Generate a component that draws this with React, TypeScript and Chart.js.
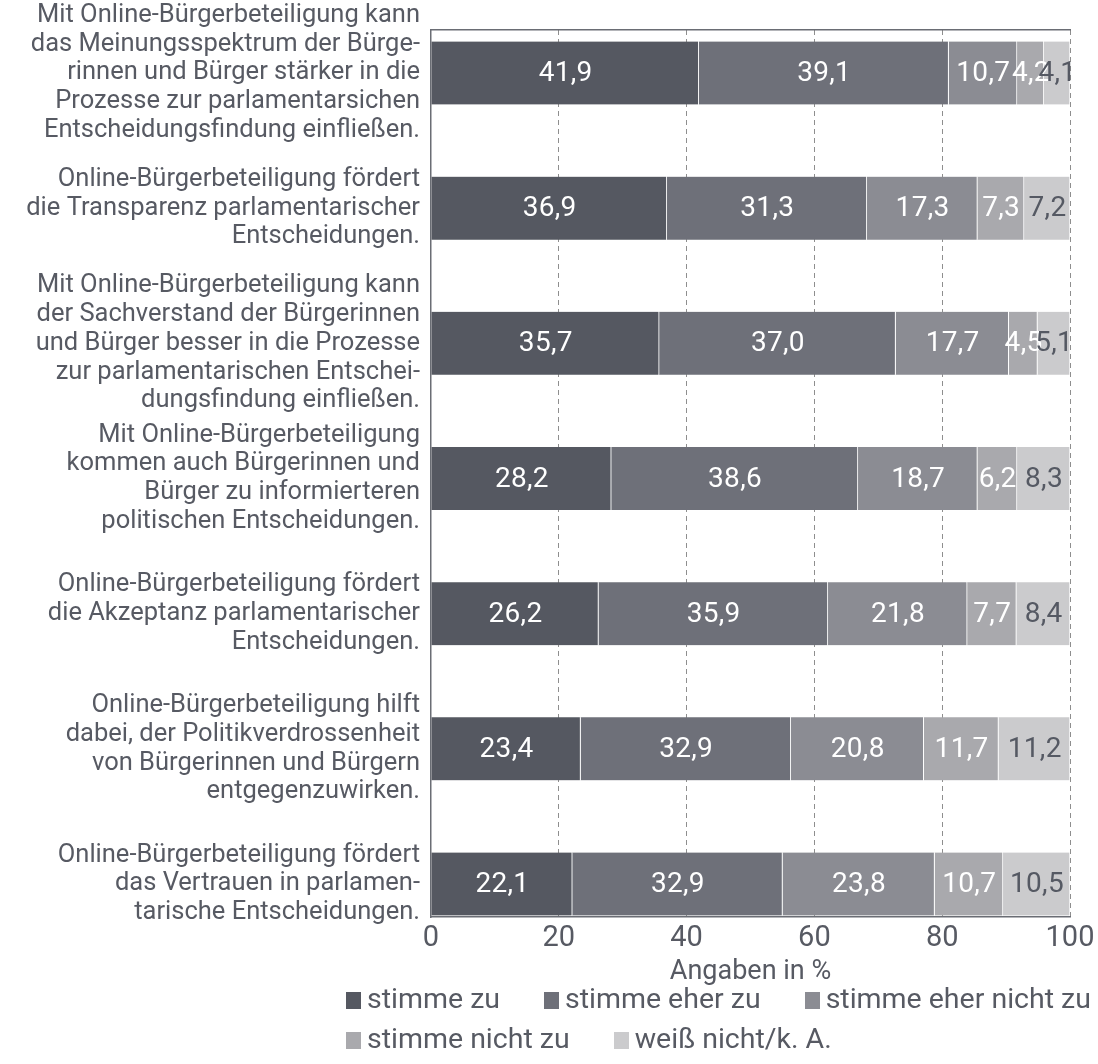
import React, { useEffect, useRef } from "react";
import { Chart, registerables } from "chart.js";

Chart.register(...registerables);

const categories: string[][] = [
  ["Mit Online-Bürgerbeteiligung kann", "das Meinungsspektrum der Bürge-", "rinnen und Bürger stärker in die", "Prozesse zur parlamentarsichen", "Entscheidungsfindung einfließen."],
  ["Online-Bürgerbeteiligung fördert", "die Transparenz parlamentarischer", "Entscheidungen."],
  ["Mit Online-Bürgerbeteiligung kann", "der Sachverstand der Bürgerinnen", "und Bürger besser in die Prozesse", "zur parlamentarischen Entschei-", "dungsfindung einfließen."],
  ["Mit Online-Bürgerbeteiligung", "kommen auch Bürgerinnen und", "Bürger zu informierteren", "politischen Entscheidungen."],
  ["Online-Bürgerbeteiligung fördert", "die Akzeptanz parlamentarischer", "Entscheidungen."],
  ["Online-Bürgerbeteiligung hilft", "dabei, der Politikverdrossenheit", "von Bürgerinnen und Bürgern", "entgegenzuwirken."],
  ["Online-Bürgerbeteiligung fördert", "das Vertrauen in parlamen-", "tarische Entscheidungen."],
];

const seriesNames = ["stimme zu", "stimme eher zu", "stimme eher nicht zu", "stimme nicht zu", "weiß nicht/k. A."];
const stimmeZu = [41.9, 36.9, 35.7, 28.2, 26.2, 23.4, 22.1];
const stimmeEherZu = [39.1, 31.3, 37.0, 38.6, 35.9, 32.9, 32.9];
const stimmeEherNichtZu = [10.7, 17.3, 17.7, 18.7, 21.8, 20.8, 23.8];
const stimmeNichtZu = [4.2, 7.3, 4.5, 6.2, 7.7, 11.7, 10.7];
const weissNicht = [4.1, 7.2, 5.1, 8.3, 8.4, 11.2, 10.5];
const xTicks = [0, 20, 40, 60, 80, 100];
const xTitle = "Angaben in %";

const seriesValues = [stimmeZu, stimmeEherZu, stimmeEherNichtZu, stimmeNichtZu, weissNicht];
const colors = ["#555861", "#6e7079", "#8b8c93", "#a9a9ad", "#cbcbcd"];
const labelColors = ["#ffffff", "#ffffff", "#ffffff", "#ffffff", "#555963"];
const textColor = "#575a63";
const FONT = "Roboto, 'Liberation Sans', sans-serif";

const fmt = (v: number) => v.toFixed(1).replace(".", ",");

const valueLabelPlugin = {
  id: "valueLabels",
  afterDatasetsDraw(chart: any) {
    const ctx = chart.ctx;
    ctx.save();
    ctx.font = `28px ${FONT}`;
    try {
      (ctx as any).letterSpacing = "0.3px";
    } catch (e) {}
    ctx.textAlign = "center";
    ctx.textBaseline = "middle";
    chart.data.datasets.forEach((ds: any, di: number) => {
      const meta = chart.getDatasetMeta(di);
      meta.data.forEach((bar: any, i: number) => {
        const p = bar.getProps(["x", "y", "base"], true);
        ctx.fillStyle = labelColors[di];
        ctx.fillText(fmt(seriesValues[di][i]), (p.x + p.base) / 2 + 0.5, p.y + 1);
      });
    });
    ctx.restore();
  },
};

export default function App() {
  const ref = useRef<HTMLCanvasElement | null>(null);

  useEffect(() => {
    if (!ref.current) return;
    const chart = new Chart(ref.current, {
      type: "bar",
      data: {
        datasets: seriesNames.map((name, di) => ({
          label: name,
          data: seriesValues[di].map((v, i) => ({ x: v, y: i })),
          backgroundColor: colors[di],
          borderColor: "#ffffff",
          borderWidth: { top: 0, bottom: 0, left: 0, right: 1 },
          borderSkipped: false,
          barThickness: 63,
        })),
      },
      options: {
        indexAxis: "y",
        animation: false,
        responsive: false,
        events: [],
        layout: { padding: { top: 30, right: 28, left: 0, bottom: 0 } },
        plugins: { legend: { display: false }, tooltip: { enabled: false } },
        scales: {
          x: {
            type: "linear",
            position: "bottom",
            stacked: true,
            min: 0,
            max: 100,
            afterBuildTicks: (s: any) => {
              s.ticks = xTicks.map((v) => ({ value: v }));
            },
            afterFit: (s: any) => {
              s.height = 83;
              s.paddingLeft = 0;
              s.paddingRight = 0;
            },
            ticks: {
              color: textColor,
              font: { family: FONT, size: 29 },
              padding: 4,
            },
            grid: {
              drawTicks: false,
              color: (c: any) => (c.tick && c.tick.value === 0 ? "rgba(0,0,0,0)" : "#8e8e8e"),
              lineWidth: 1,
            },
            border: { display: true, color: "#6a6d74", width: 1.5, dash: [5, 4] },
            title: {
              display: true,
              text: xTitle,
              color: textColor,
              font: { family: FONT, size: 27, lineHeight: 1.2 },
              padding: { top: 0, bottom: 12 },
            },
          },
          xTop: {
            type: "linear",
            position: "top",
            min: 0,
            max: 100,
            ticks: { display: false },
            grid: { display: false, drawTicks: false },
            border: { display: true, color: "#6a6d74", width: 1.5 },
            afterFit: (s: any) => {
              s.height = 0;
              s.paddingLeft = 0;
              s.paddingRight = 0;
            },
          },
          y: {
            type: "linear",
            position: "left",
            stacked: true,
            reverse: true,
            offset: false,
            min: -0.318,
            max: 6.244,
            afterBuildTicks: (s: any) => {
              s.ticks = categories.map((_, i) => ({ value: i }));
            },
            afterFit: (s: any) => {
              s.width = 431;
              s.paddingTop = 0;
              s.paddingBottom = 0;
            },
            ticks: {
              autoSkip: false,
              color: textColor,
              padding: 11,
              font: { family: FONT, size: 25.5, lineHeight: 1.13 },
              callback: (v: any) => categories[Math.round(Number(v))] ?? "",
            },
            grid: { display: false, drawTicks: false },
            border: { display: true, color: "#6a6d74", width: 1.5 },
          },
        },
      },
      plugins: [valueLabelPlugin],
    } as any);
    return () => chart.destroy();
  }, []);

  return (
    <div style={{ position: "fixed", left: 0, top: 0, width: 1098, height: 1064, background: "#fff", overflow: "hidden" }}>
      <canvas ref={ref} width={1098} height={1000} style={{ display: "block" }} />
      <div
        style={{
          position: "absolute",
          left: 346,
          top: 982,
          width: 760,
          display: "flex",
          flexWrap: "wrap",
          columnGap: 44,
          rowGap: 6,
          fontFamily: FONT,
          fontSize: 28.5,
          lineHeight: "34px",
          color: textColor,
        }}
      >
        {seriesNames.map((n, i) => (
          <div key={n} style={{ display: "flex", alignItems: "center", whiteSpace: "nowrap" }}>
            <span style={{ display: "inline-block", width: 15, height: 17, background: colors[i], marginRight: 6, marginTop: 2 }} />
            {n}
          </div>
        ))}
      </div>
    </div>
  );
}
